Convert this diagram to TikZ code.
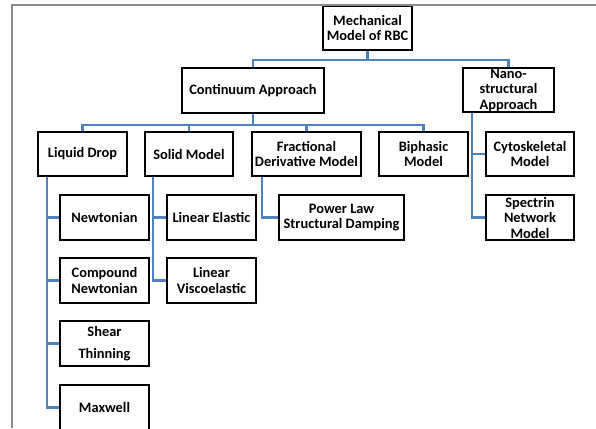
\documentclass[tikz,border=0pt]{standalone}
\usepackage{fontspec}
\setmainfont{Carlito}
\definecolor{connblue}{RGB}{79,129,189}
\definecolor{framegray}{RGB}{140,140,140}
\tikzset{
  box/.style={draw=black, line width=1.5pt, fill=white, inner sep=0pt, align=center,
    font=\bfseries\fontsize{14.4}{15.5}\selectfont, text=black},
  conn/.style={draw=connblue, line width=2.2pt},
  frameline/.style={draw=framegray, line width=2pt}
}
\begin{document}
\begin{tikzpicture}[x=1pt, y=-1pt]
\useasboundingbox (0,0) rectangle (596,428);
\clip (0,0) rectangle (596,428);
\fill[white] (0,0) rectangle (596,428);
% outer frame
\draw[frameline] (12,428) -- (12,5.5) -- (596,5.5);
% nodes
\node[box, minimum width=89pt, minimum height=43.5pt] (mech) at (367.5,28.25) {Mechanical\\Model of RBC};
\node[box, minimum width=142pt, minimum height=45pt] (cont) at (253,90.5) {Continuum Approach};
\node[box, minimum width=91pt, minimum height=44pt] (nano) at (508.5,90) {Nano-\\structural\\Approach};
\node[box, minimum width=89pt, minimum height=44pt] (liquid) at (82.5,154) {Liquid Drop};
\node[box, minimum width=88pt, minimum height=44pt] (solid) at (189,154) {Solid Model};
\node[box, minimum width=109pt, minimum height=44pt] (frac) at (306.5,154) {Fractional\\Derivative Model};
\node[box, minimum width=89pt, minimum height=44pt] (biph) at (423.5,154) {Biphasic\\Model};
\node[box, minimum width=88pt, minimum height=44pt] (cyto) at (530,154) {Cytoskeletal\\Model};
\node[box, minimum width=89pt, minimum height=45pt] (newt) at (104.5,217.5) {Newtonian};
\node[box, minimum width=89pt, minimum height=45pt] (comp) at (104.5,280.5) {Compound\\Newtonian};
\node[box, minimum width=89pt, minimum height=45pt] (shear) at (104.5,343.5) {Shear\\[6pt]Thinning};
\node[box, minimum width=89pt, minimum height=45pt] (maxw) at (104.5,407.5) {Maxwell};
\node[box, minimum width=89pt, minimum height=45pt] (linel) at (211.5,217.5) {Linear Elastic};
\node[box, minimum width=89pt, minimum height=45pt] (linvisc) at (211.5,280.5) {Linear\\Viscoelastic};
\node[box, minimum width=125pt, minimum height=45pt] (power) at (341.5,217.5) {Power Law\\Structural Damping};
\node[box, minimum width=88pt, minimum height=45pt] (spec) at (530,217.5) {Spectrin\\Network\\Model};
% connectors
\draw[conn] (mech.south) -- ++(0,9) -| (cont.north);
\draw[conn] (mech.south) -- ++(0,9) -| (nano.north);
\draw[conn] (cont.south) -- ++(0,11.5) -| (liquid.north);
\draw[conn] (cont.south) -- ++(0,11.5) -| (solid.north);
\draw[conn] (cont.south) -- ++(0,11.5) -| (frac.north);
\draw[conn] (cont.south) -- ++(0,11.5) -| (biph.north);
\draw[conn] ([xshift=10pt]liquid.south west) |- (newt.west);
\draw[conn] ([xshift=10pt]liquid.south west) |- (comp.west);
\draw[conn] ([xshift=10pt]liquid.south west) |- (shear.west);
\draw[conn] ([xshift=10pt]liquid.south west) |- (maxw.west);
\draw[conn] ([xshift=9pt]solid.south west) |- (linel.west);
\draw[conn] ([xshift=9pt]solid.south west) |- (linvisc.west);
\draw[conn] ([xshift=11pt]frac.south west) |- (power.west);
\draw[conn] ([xshift=10pt]nano.south west) |- (cyto.west);
\draw[conn] ([xshift=10pt]nano.south west) |- (spec.west);
\end{tikzpicture}
\end{document}
